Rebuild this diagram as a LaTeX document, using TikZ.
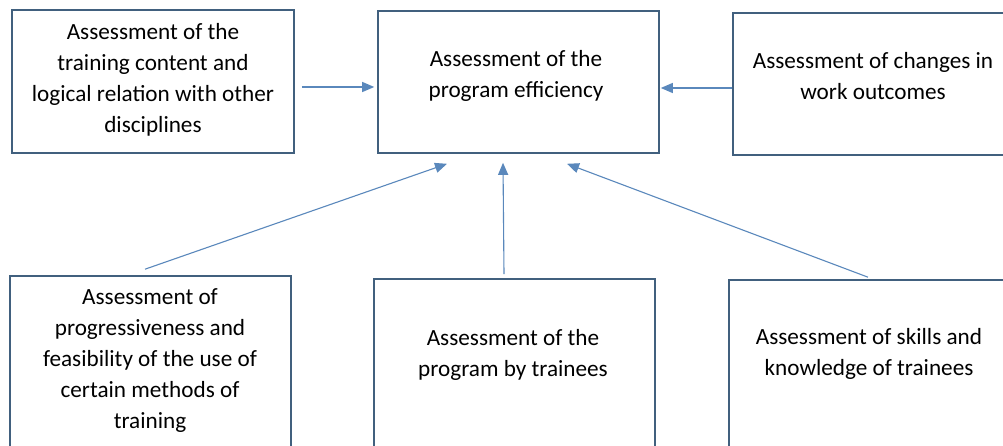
\documentclass[tikz,border=0pt]{standalone}
\usepackage{fontspec}
\setmainfont{Carlito}
\usetikzlibrary{arrows.meta,calc}
\definecolor{boxline}{HTML}{41607E}
\definecolor{arrowc}{HTML}{5A88BC}
\begin{document}
\begin{tikzpicture}[x=1pt,y=-1pt,
  box/.style={draw=boxline,line width=1.6pt,fill=none,inner sep=0pt},
  lbl/.style={align=center,inner sep=0pt,font=\fontsize{23.2}{31}\selectfont,text=black},
  conn/.style={draw=arrowc,line width=1.1pt,-{Triangle[length=12pt,width=10pt]}}]
\clip (0,0) rectangle (1003,446);
\fill[white] (0,0) rectangle (1003,446);
% boxes
\node[box,minimum width=282pt,minimum height=143pt] (tl) at (153,81.5) {};
\node[box,minimum width=281pt,minimum height=142pt] (tc) at (518.5,82) {};
\node[box,minimum width=277pt,minimum height=142pt] (tr) at (871.5,84) {};
\node[box,minimum width=281pt,minimum height=184pt] (bl) at (150.5,368) {};
\node[box,minimum width=281pt,minimum height=181pt] (bc) at (514.5,369.5) {};
\node[box,minimum width=281pt,minimum height=180pt] (br) at (869.5,370) {};
% texts
\node[lbl] (tlt) at (153,80) {Assessment of the\\training content and\\logical relation with other\\disciplines};
\node[lbl] (tct) at (516,75.5) {Assessment of the\\program efficiency};
\node[lbl] (trt) at (873,76) {Assessment of changes in\\work outcomes};
\node[lbl] (blt) at (150,361) {Assessment of\\progressiveness and\\feasibility of the use of\\certain methods of\\training};
\node[lbl] (bct) at (513,354.5) {Assessment of the\\program by trainees};
\node[lbl] (brt) at (869,354) {Assessment of skills and\\knowledge of trainees};
% connectors
\draw[conn] ($(tl.east)+(7,5.5)$) -- ($(tc.west)+(-3,5)$);
\draw[conn] ($(tr.west)+(0,4)$) -- ($(tc.east)+(1,6)$);
\draw[conn] ($(bl.north)+(-5.5,-6)$) -- ($(tc.south)+(-71.5,10)$);
\draw[conn] ($(bc.north)+(-10.5,-4)$) -- ($(tc.south)+(-15.5,9)$);
\draw[conn] ($(br.north)+(-1.5,-2)$) -- ($(tc.south)+(48.5,10)$);
\end{tikzpicture}
\end{document}
